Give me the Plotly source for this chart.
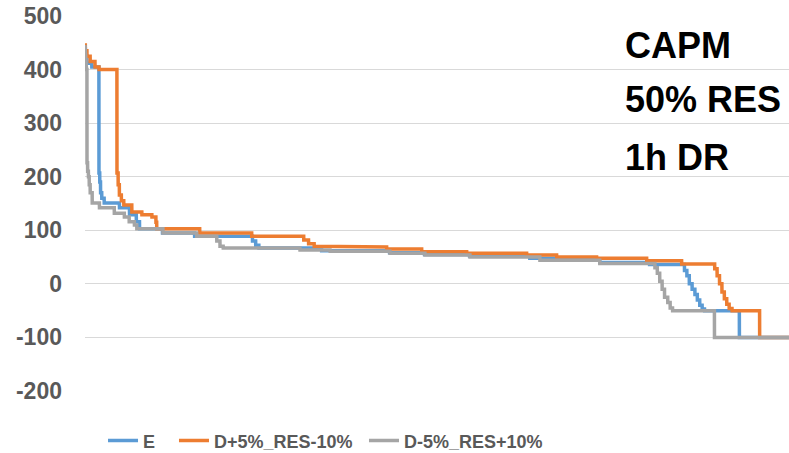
import numpy as np
import plotly.graph_objects as go

# Price duration curves: each series is stored as run-lengths of
# (price level in EUR/MWh, number of hours at that level), sorted high to low.
HOURS_PER_YEAR = 8760

e_prices = [440, 425, 412, 405, 207, 190, 170, 160, 151, 142, 129, 116, 103,
            95, 89, 80, 72, 67, 62, 58, 55, 52, 48, 45, 40, 36,
            25, 15, 0, -10, -20, -30, -40, -47, -50, -100]
e_hours = [5, 20, 60, 89, 10, 10, 15, 30, 190, 125, 85, 40, 285,
           400, 720, 40, 40, 780, 845, 435, 560, 750, 370, 500, 620, 435,
           30, 30, 35, 35, 30, 30, 30, 30, 433, 0]

hi_prices = [446, 435, 425, 415, 405, 400, 207, 185, 166, 155, 147, 134, 129,
             125, 115, 103, 95, 89, 82, 75, 70, 69, 65, 60, 57, 54, 50, 48,
             43, 37, 28, 15, 0, -15, -28, -38, -46, -50, -100]
hi_hours = [5, 20, 40, 60, 50, 223, 15, 15, 25, 30, 100, 125, 125,
            50, 10, 535, 647, 647, 60, 70, 69, 833, 436, 560, 746, 373, 498, 622,
            435, 411, 30, 30, 30, 30, 30, 30, 36, 343, 0]

lo_prices = [446, 430, 415, 400, 226, 210, 200, 185, 170, 151, 142, 132, 125,
             116, 110, 103, 95, 89, 80, 70, 67, 63, 61, 57, 54, 50, 44, 38,
             30, 20, 5, -10, -25, -35, -45, -50, -100]
lo_hours = [3, 6, 8, 8, 8, 10, 10, 12, 25, 90, 185, 125, 60,
            65, 30, 325, 420, 250, 40, 40, 955, 375, 745, 435, 560, 870, 745, 686,
            30, 30, 30, 30, 40, 30, 30, 521, 0]

series_names = ["E", "D+5%_RES-10%", "D-5%_RES+10%"]
series_colors = ["#5b9bd5", "#ed7d31", "#a5a5a5"]
y_ticks = [-200, -100, 0, 100, 200, 300, 400, 500]
y_tick_text = [str(v) for v in y_ticks]
label_lines = ["CAPM", "50% RES", "1h DR"]


def expand(prices, hours):
    """Turn run-lengths into a full sorted hourly curve of HOURS_PER_YEAR values."""
    hours = list(hours)
    hours[-1] = HOURS_PER_YEAR - sum(hours[:-1])
    return np.repeat(np.array(prices, dtype=float), hours)


curves = [expand(e_prices, e_hours), expand(hi_prices, hi_hours), expand(lo_prices, lo_hours)]

# one legend box per series so each entry can sit at its own spot
legend_ids = ["legend", "legend2", "legend3"]
legend_x = [0.0256, 0.1264, 0.3963]

fig = go.Figure()
for name, color, curve, lid in zip(series_names, series_colors, curves, legend_ids):
    fig.add_trace(go.Scatter(
        x=np.arange(1, curve.size + 1),
        y=curve,
        mode="lines",
        name=name,
        line=dict(color=color, width=3.5),
        legend=lid,
    ))

legend_font = dict(family="Liberation Sans", size=18, color="#595959", weight="bold")
legend_boxes = {
    lid: dict(
        orientation="h",
        x=lx, xanchor="left",
        y=-0.133, yanchor="middle",
        font=legend_font,
        itemwidth=30,
        bgcolor="rgba(0,0,0,0)",
    )
    for lid, lx in zip(legend_ids, legend_x)
}

fig.update_layout(
    width=789,
    height=453,
    margin=dict(l=85, r=0, t=16, b=62, autoexpand=False),
    paper_bgcolor="white",
    plot_bgcolor="white",
    showlegend=True,
    xaxis=dict(
        range=[1, HOURS_PER_YEAR],
        showgrid=False, zeroline=False, showline=False,
        showticklabels=False, ticks="",
    ),
    yaxis=dict(
        range=[-200, 500],
        tickvals=y_ticks,
        ticktext=y_tick_text,
        showgrid=True, gridcolor="#d9d9d9", gridwidth=1,
        zeroline=False, showline=False, ticks="",
        tickfont=dict(family="Liberation Sans", size=23, color="#595959", weight="bold"),
        ticklabelstandoff=22,
    ),
    **legend_boxes,
)

label_y = [0.922, 0.776, 0.624]
for text, yy in zip(label_lines, label_y):
    fig.add_annotation(
        text=text, xref="paper", yref="paper",
        x=0.7642, y=yy, xanchor="left", yanchor="middle",
        showarrow=False,
        font=dict(family="Liberation Sans", size=36, color="black", weight="bold"),
    )

fig.write_html("out.html")
